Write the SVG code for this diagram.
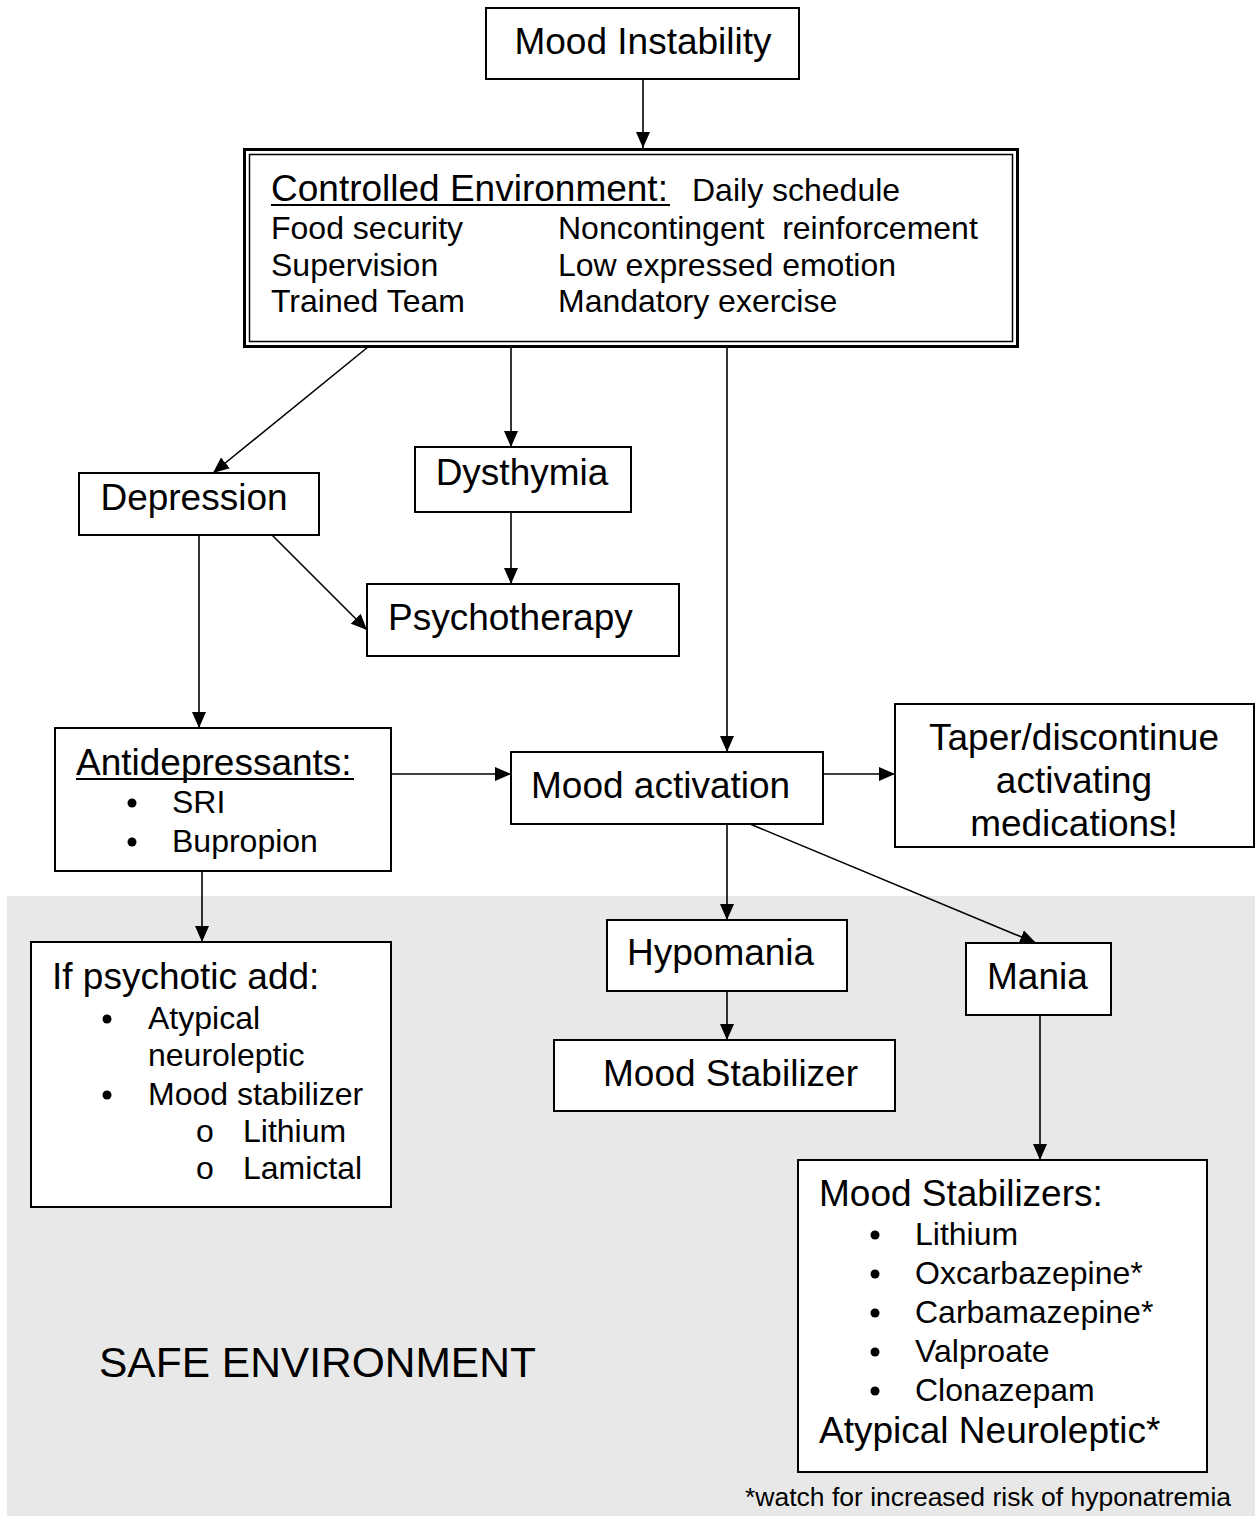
<svg xmlns="http://www.w3.org/2000/svg" width="1255" height="1516" viewBox="0 0 1255 1516">
<defs>
<style>
.box{fill:#fff;stroke:#000;stroke-width:2}
.t{font-family:"Liberation Sans",Arial,sans-serif;fill:#000}
.l{font-size:37px}
.m{font-size:32px}
.c{text-anchor:middle}
.con line{stroke:#000;stroke-width:1.6;marker-end:url(#ah)}
</style>
<marker id="ah" markerUnits="userSpaceOnUse" markerWidth="17" markerHeight="14" refX="16" refY="7" orient="auto">
<path d="M0,0 L16,7 L0,14 Z" fill="#000"/>
</marker>
</defs>
<rect x="0" y="0" width="1255" height="1516" fill="#fff"/>
<rect id="safe-bg" x="7" y="896" width="1248" height="620" fill="#e8e8e8"/>
<text class="t" x="99" y="1377" font-size="42.5">SAFE ENVIRONMENT</text>
<text class="t" x="745" y="1506" font-size="26.5">*watch for increased risk of hyponatremia</text>

<g id="connectors" class="con">
<line x1="643" y1="79" x2="643" y2="148"/>
<line x1="368" y1="347" x2="213" y2="473"/>
<line x1="511" y1="347" x2="511" y2="447"/>
<line x1="727" y1="347" x2="727" y2="752"/>
<line x1="511" y1="512" x2="511" y2="584"/>
<line x1="272" y1="535" x2="367" y2="630"/>
<line x1="199" y1="535" x2="199" y2="728"/>
<line x1="391" y1="774" x2="511" y2="774"/>
<line x1="823" y1="774" x2="895" y2="774"/>
<line x1="202" y1="871" x2="202" y2="942"/>
<line x1="727" y1="824" x2="727" y2="920"/>
<line x1="727" y1="991" x2="727" y2="1040"/>
<line x1="750" y1="824" x2="1036" y2="943"/>
<line x1="1040" y1="1015" x2="1040" y2="1160"/>
</g>

<g id="mood-instability">
<rect class="box" x="486" y="8" width="313" height="71"/>
<text class="t l c" x="643" y="54">Mood Instability</text>
</g>

<g id="controlled-environment">
<rect x="244.5" y="149.5" width="773" height="197" fill="#fff" stroke="#000" stroke-width="3"/>
<rect x="249.5" y="154.5" width="763" height="187" fill="none" stroke="#000" stroke-width="1.5"/>
<text class="t l" x="271" y="201">Controlled Environment:</text>
<line x1="271" y1="205" x2="670" y2="205" stroke="#000" stroke-width="1.8"/>
<text class="t m" x="692" y="201">Daily schedule</text>
<text class="t m" x="271" y="239">Food security</text>
<text class="t m" x="558" y="239" xml:space="preserve">Noncontingent  reinforcement</text>
<text class="t m" x="271" y="276">Supervision</text>
<text class="t m" x="558" y="276">Low expressed emotion</text>
<text class="t m" x="271" y="312">Trained Team</text>
<text class="t m" x="558" y="312">Mandatory exercise</text>
</g>

<g id="depression">
<rect class="box" x="79" y="473" width="240" height="62"/>
<text class="t l c" x="194" y="510">Depression</text>
</g>

<g id="dysthymia">
<rect class="box" x="415" y="447" width="216" height="65"/>
<text class="t l c" x="522" y="485">Dysthymia</text>
</g>

<g id="psychotherapy">
<rect class="box" x="367" y="584" width="312" height="72"/>
<text class="t l" x="388" y="630">Psychotherapy</text>
</g>

<g id="antidepressants">
<rect class="box" x="55" y="728" width="336" height="143"/>
<text class="t l" x="76" y="775">Antidepressants:</text>
<line x1="76" y1="779" x2="354" y2="779" stroke="#000" stroke-width="1.8"/>
<circle cx="132" cy="803" r="4.5"/>
<text class="t m" x="172" y="813">SRI</text>
<circle cx="132" cy="842" r="4.5"/>
<text class="t m" x="172" y="852">Bupropion</text>
</g>

<g id="mood-activation">
<rect class="box" x="511" y="752" width="312" height="72"/>
<text class="t l" x="531" y="798">Mood activation</text>
</g>

<g id="taper">
<rect class="box" x="895" y="704" width="359" height="143"/>
<text class="t l c" x="1074" y="750">Taper/discontinue</text>
<text class="t l c" x="1074" y="793">activating</text>
<text class="t l c" x="1074" y="836">medications!</text>
</g>

<g id="psychotic">
<rect class="box" x="31" y="942" width="360" height="265"/>
<text class="t l" x="52" y="989">If psychotic add:</text>
<circle cx="107" cy="1019" r="4.5"/>
<text class="t m" x="148" y="1029">Atypical</text>
<text class="t m" x="148" y="1066">neuroleptic</text>
<circle cx="107" cy="1095" r="4.5"/>
<text class="t m" x="148" y="1105">Mood stabilizer</text>
<text class="t m" x="196" y="1142">o</text>
<text class="t m" x="243" y="1142">Lithium</text>
<text class="t m" x="196" y="1179">o</text>
<text class="t m" x="243" y="1179">Lamictal</text>
</g>

<g id="hypomania">
<rect class="box" x="607" y="920" width="240" height="71"/>
<text class="t l" x="627" y="965">Hypomania</text>
</g>

<g id="mood-stabilizer">
<rect class="box" x="554" y="1040" width="341" height="71"/>
<text class="t l" x="603" y="1086">Mood Stabilizer</text>
</g>

<g id="mania">
<rect class="box" x="966" y="943" width="145" height="72"/>
<text class="t l" x="987" y="989">Mania</text>
</g>

<g id="mood-stabilizers">
<rect class="box" x="798" y="1160" width="409" height="312"/>
<text class="t l" x="819" y="1206">Mood Stabilizers:</text>
<circle cx="875" cy="1235" r="4.5"/>
<text class="t m" x="915" y="1245">Lithium</text>
<circle cx="875" cy="1274" r="4.5"/>
<text class="t m" x="915" y="1284">Oxcarbazepine*</text>
<circle cx="875" cy="1313" r="4.5"/>
<text class="t m" x="915" y="1323">Carbamazepine*</text>
<circle cx="875" cy="1352" r="4.5"/>
<text class="t m" x="915" y="1362">Valproate</text>
<circle cx="875" cy="1391" r="4.5"/>
<text class="t m" x="915" y="1401">Clonazepam</text>
<text class="t l" x="819" y="1443">Atypical Neuroleptic*</text>
</g>
</svg>
